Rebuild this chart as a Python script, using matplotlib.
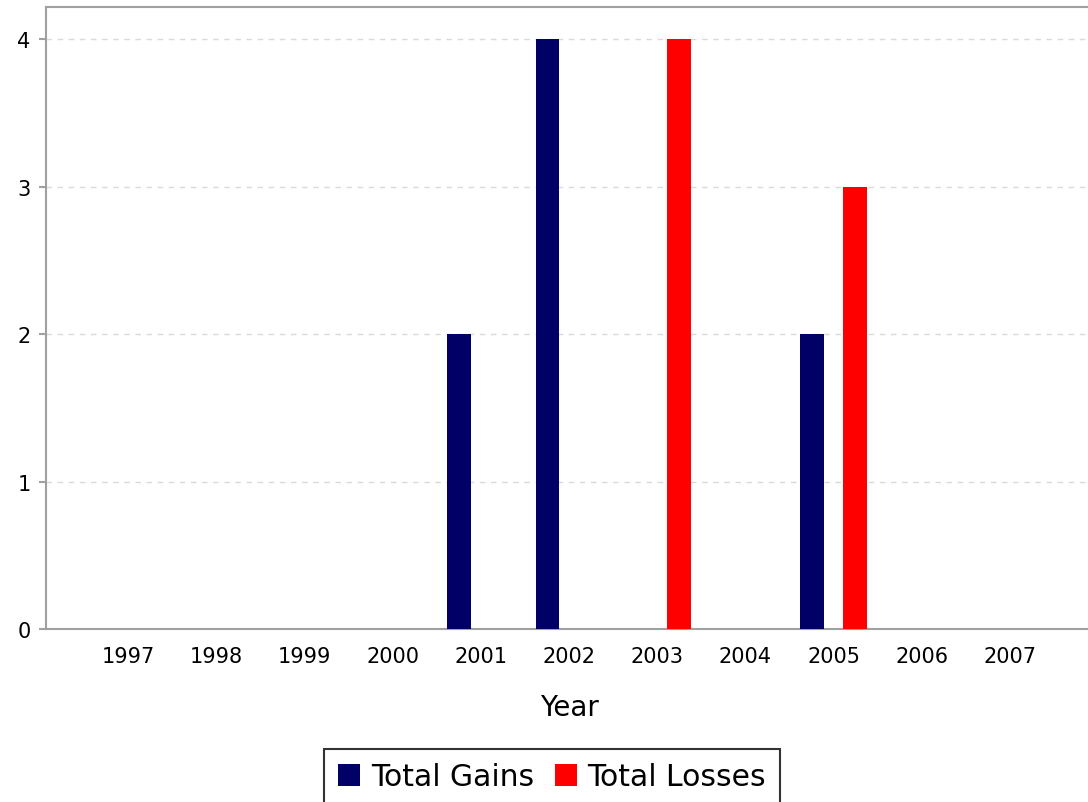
import matplotlib
matplotlib.use("Agg")
from matplotlib import pyplot as plt
from matplotlib.patches import Patch
import numpy as np

years = ['1997', '1998', '1999', '2000', '2001', '2002',
         '2003', '2004', '2005', '2006', '2007']
gains = [0, 0, 0, 0, 2, 4, 0, 0, 2, 0, 0]
losses = [0, 0, 0, 0, 0, 0, 4, 0, 3, 0, 0]

navy = '#000066'
red = '#ff0000'
grey = '#a0a0a0'

fig = plt.figure(figsize=(10.88, 8.03), dpi=100)
ax = fig.add_axes([46 / 1088, 1 - 630 / 803, 1046 / 1088, 622 / 803])

x = np.arange(len(years))
w = 0.27
ax.bar(x - 0.244, gains, w, color=navy, linewidth=0, zorder=3)
ax.bar(x + 0.244, losses, w, color=red, linewidth=0, zorder=3)

ax.set_xlim(-0.93, 10.93)
ax.set_ylim(0, 4.22)
ax.set_yticks([0, 1, 2, 3, 4])
ax.set_xticks(x)
ax.set_xticklabels(years)

# grid + axis styling
ax.yaxis.grid(True, color='#dadada', linestyle=(0, (4, 4)), linewidth=1, zorder=0)
for s in ['left', 'bottom', 'top']:
    ax.spines[s].set_color(grey)
    ax.spines[s].set_linewidth(1.5)
ax.spines['right'].set_visible(False)
ax.tick_params(axis='y', length=5, width=1.5, color=grey, pad=6, labelsize=15)
ax.tick_params(axis='x', length=0, pad=12, labelsize=15)

ax.set_xlabel('Year', fontsize=20, labelpad=20)

handles = [Patch(facecolor=navy, edgecolor='none'),
           Patch(facecolor=red, edgecolor='none')]
leg = fig.legend(handles, ['Total Gains', 'Total Losses'],
                 loc='upper center', bbox_to_anchor=(552 / 1088, 1 - 750 / 803),
                 ncol=2, fontsize=21.5, frameon=True, fancybox=False,
                 handlelength=0.75, handleheight=0.75, handletextpad=0.35,
                 columnspacing=0.7, borderpad=0.45, borderaxespad=0)
leg.get_frame().set_edgecolor('black')
leg.get_frame().set_linewidth(1.5)

plt.savefig('out.png', dpi=100)
